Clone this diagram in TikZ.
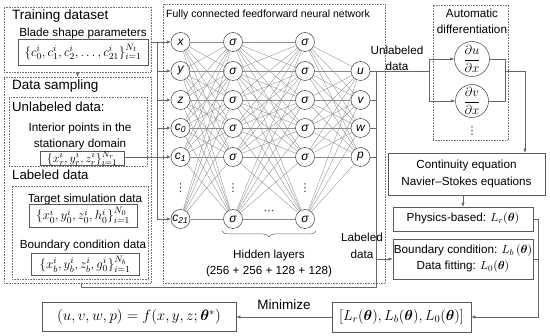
\RequirePackage{fix-cm}
\documentclass[tikz,border=0pt]{standalone}
\usepackage[no-math]{fontspec}
\setmainfont{Liberation Sans}
\newfontfamily\dejavu{DejaVu Sans}
\usepackage{amsmath,bm}
\DeclareMathSizes{11.7}{11.7}{8.6}{7}
\DeclareMathSizes{12}{12}{8.6}{6.8}
\DeclareMathSizes{13}{13}{9.3}{7.3}
\DeclareMathSizes{14.5}{14.5}{10.5}{8}
\DeclareMathSizes{15}{15}{10.8}{8.2}
\usetikzlibrary{arrows.meta,decorations.pathreplacing,calc}
\newcommand\fsz[2]{\fontsize{#1}{#2}\selectfont}
\begin{document}
\begin{tikzpicture}[x=1pt,y=-1pt,
  dotbox/.style={draw=black!55, densely dotted, line width=0.6pt, inner sep=0},
  solbox/.style={draw=black!65, line width=0.6pt, inner sep=0},
  conn/.style={draw=black!60, line width=0.5pt},
  arr/.style={conn, -{Latex[length=4pt,width=3.4pt]}},
  neuron/.style={circle, draw=black!75, line width=0.5pt, minimum size=19pt, inner sep=0, font=\fsz{12}{14}\itshape},
  nnedge/.style={draw=black!45, line width=0.35pt},
  head/.style={font=\fsz{13.5}{16}, inner sep=0, anchor=west},
  txt/.style={font=\fsz{11.7}{16}, inner sep=0, align=center},
  dots/.style={font=\dejavu\fsz{11}{12}, inner sep=0, text=black!80},
  mth/.style={font=\fsz{12}{14}, inner sep=0}]
\useasboundingbox (0,0) rectangle (550,336);

% ---------- left column ----------
\node[dotbox, minimum width=147pt, minimum height=65pt] (train) at (77.5,39.5) {};
\node[head] (trainT) at (12,16) {Training dataset};
\node[txt] (blade) at (83,33) {Blade shape parameters};
\node[solbox, mth, minimum width=130pt, minimum height=26pt, font=\fsz{13}{14}] (ft) at (83,52)
  {$\{c_0^i, c_1^i, c_2^i, \dots, c_{21}^i\}_{i=1}^{N_t}$};

\node[dotbox, minimum width=147pt, minimum height=206pt] (ds) at (77.5,180) {};
\node[head] (dsT) at (12,86) {Data sampling};
\node[dotbox, minimum width=138pt, minimum height=69pt] (unl) at (78,131.5) {};
\node[head, font=\fsz{13.2}{16}] (unlT) at (12,107) {Unlabeled data:};
\node[txt, font=\fsz{11.7}{16}] (interior) at (80,136) {Interior points in the\\stationary domain};
\node[solbox, mth, minimum width=84pt, minimum height=13pt, font=\fsz{12}{13}] (fr) at (82,158.5)
  {$\{x_r^i, y_r^i, z_r^i\}_{i=1}^{N_r}$};
\node[head, font=\fsz{13.2}{16}] (labT) at (12,175) {Labeled data};
\node[dotbox, minimum width=136pt, minimum height=93pt] (lab) at (80,232.5) {};
\node[txt] (tsd) at (85,199) {Target simulation data};
\node[solbox, mth, minimum width=108pt, minimum height=23pt, font=\fsz{13}{14}] (f0) at (83,215.5)
  {$\{x_0^i, y_0^i, z_0^i, h_0^i\}_{i=1}^{N_0}$};
\node[txt] (bcd) at (83,245) {Boundary condition data};
\node[solbox, mth, minimum width=108pt, minimum height=22pt, font=\fsz{13}{14}] (fb) at (85,264)
  {$\{x_b^i, y_b^i, z_b^i, g_0^i\}_{i=1}^{N_b}$};

\draw[arr] (train.south) -- (ds.north);

% ---------- network ----------
\node[dotbox, minimum width=222pt, minimum height=279pt] (net) at (274,143.5) {};
\node[font=\fsz{10.5}{12}, inner sep=0, anchor=west] (netT) at (166,15) {Fully connected feedforward neural network};

\node[neuron] (in1) at (180.5,42) {x};
\node[neuron] (in2) at (180.5,71) {y};
\node[neuron] (in3) at (180.5,100) {z};
\node[neuron] (in4) at (180.5,128) {c\textsubscript{0}};
\node[neuron] (in5) at (180.5,157) {c\textsubscript{1}};
\node[neuron] (in6) at (180.5,219) {c\textsubscript{21}};
\foreach \k/\yy in {1/42,2/71,3/100,4/128,5/157,6/219} {
  \node[neuron] (ha\k) at (233,\yy) {σ};
  \node[neuron] (hb\k) at (305,\yy) {σ};
}
\node[neuron] (o1) at (360.5,71) {u};
\node[neuron] (o2) at (360.5,100) {v};
\node[neuron] (o3) at (360.5,128) {w};
\node[neuron] (o4) at (360.5,157) {p};
\node[dots] (d1) at (180.5,188) {⋮};
\node[dots] (d2) at (233,188) {⋮};
\node[dots] (d3) at (305,188) {⋮};
\node[dots] (d4) at (269,212) {⋯};

\foreach \i in {1,...,6} {
  \foreach \j in {1,...,6} {
    \draw[nnedge] (in\i) -- (ha\j);
    \draw[nnedge] (ha\i) -- (hb\j);
  }
  \foreach \j in {1,...,4} {
    \draw[nnedge] (hb\i) -- (o\j);
  }
}

\coordinate (bl) at (222,231);
\coordinate (br) at (316,231);
\draw[conn, decorate, decoration={brace, mirror, amplitude=6pt}] (bl) -- (br);
\node[txt] (hid) at (269,263.5) {Hidden layers\\(256 + 256 + 128 + 128)};

% input connections
\coordinate (bt) at (157,42);
\coordinate (bb) at (157,219);
\draw[arr] (train.east |- in1) -- (in1);
\draw[conn] (bt) -- (bb);
\foreach \k in {2,...,6} { \draw[arr] (bt |- in\k) -- (in\k); }
\draw[conn] (fr.east |- in5) -- (bt |- in5);

% output bus
\coordinate (lb) at (81,287);
\coordinate (rb) at (376,287);
\coordinate (rt) at (376,71);
\draw[conn] (ds.south -| lb) -- (lb) -- (rb) -- (rt);
\foreach \k in {2,3,4} { \draw[conn] (o\k.east) -- (o\k.east -| rb); }
\node[txt] (unlab) at (397,58) {Unlabeled\\data};
\node[txt, font=\fsz{11.7}{17}] (labl) at (362,245.5) {Labeled\\data};

% ---------- automatic differentiation ----------
\node[dotbox, minimum width=75pt, minimum height=135pt] (ad) at (470.5,72.5) {};
\node[txt] (adT) at (472,21) {Automatic\\differentiation};
\node[circle, draw=black!75, line width=0.5pt, minimum size=35pt, inner sep=0, font=\fsz{13}{14}] (ad1) at (472,59) {$\dfrac{\partial u}{\partial x}$};
\node[circle, draw=black!75, line width=0.5pt, minimum size=33pt, inner sep=0, font=\fsz{13}{14}] (ad2) at (472,101) {$\dfrac{\partial v}{\partial x}$};
\node[dots] (d5) at (472,131) {⋮};

\coordinate (sL) at (429,71);
\coordinate (sR) at (505,71);
\coordinate (sR2) at (525,71);
\draw[conn] (o1.east) -- (sL);
\draw[arr] (sL) |- (ad1.west);
\draw[arr] (sL) |- (ad2.west);
\draw[conn] (ad1.east) -| (sR);
\draw[conn] (ad2.east) -| (sR);

% ---------- right column ----------
\node[solbox, txt, minimum width=157pt, minimum height=42pt, font=\fsz{11.7}{17}] (cont) at (466.5,174)
  {Continuity equation\\Navier–Stokes equations};
\node[solbox, txt, minimum width=140pt, minimum height=24pt] (phys) at (463,219)
  {Physics-based: $L_r(\bm{\theta})$};
\node[solbox, txt, minimum width=140pt, minimum height=40pt] (bound) at (463,259)
  {Boundary condition: $L_b\,(\bm{\theta})$\\Data fitting: $L_0(\bm{\theta})$};
\node[solbox, mth, minimum width=139pt, minimum height=30pt, font=\fsz{14.5}{15}] (loss) at (401.5,317)
  {$[L_r(\bm{\theta}), L_b(\bm{\theta}), L_0(\bm{\theta})]$};
\node[solbox, mth, minimum width=194pt, minimum height=29pt, font=\fsz{15}{16}] (res) at (139,317)
  {$(u, v, w, p) = f(x, y, z; \bm{\theta}^{*})$};

\draw[arr] (sR) -- (sR2) -- (sR2 |- cont.north);
\draw[arr] (phys.north |- cont.south) -- (phys.north);
\draw[arr] (bound.west -| rb) -- (bound.west);
\coordinate (lr) at (538,317);
\draw[conn] (bound.east) -- (bound.east -| lr);
\draw[arr] (phys.east) -| (lr) -- (loss.east);
\draw[arr] (loss.west) -- (res.east);
\node[font=\fsz{13.5}{16}, inner sep=0] (mini) at (284,305) {Minimize};
\end{tikzpicture}
\end{document}
